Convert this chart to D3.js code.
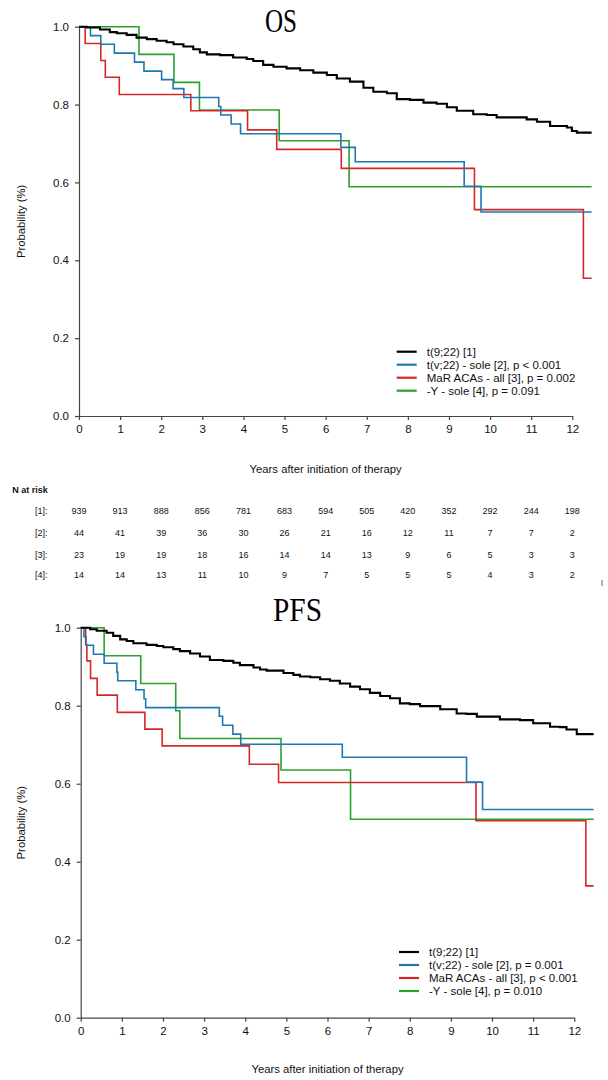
<!DOCTYPE html>
<html><head><meta charset="utf-8">
<script src="https://cdn.jsdelivr.net/npm/d3@7"></script>
<style>body{margin:0;background:#fff}svg{display:block}</style>
</head><body><svg id="c" width="608" height="1080"></svg>
<script>
// ---------- data ----------
const osLegend = ["t(9;22) [1]", "t(v;22) - sole [2], p < 0.001", "MaR ACAs - all [3], p = 0.002", "-Y - sole [4], p = 0.091"];
const pfsLegend = ["t(9;22) [1]", "t(v;22) - sole [2], p = 0.001", "MaR ACAs - all [3], p < 0.001", "-Y - sole [4], p = 0.010"];
const seriesColors = ["#000000", "#1f77b4", "#d62728", "#2ca02c"];
const xTicks = [0,1,2,3,4,5,6,7,8,9,10,11,12];
const yTicks = [0, 0.2, 0.4, 0.6, 0.8, 1.0];
const followUpEnd = 12.47;

// OS curves (time in years, survival probability)
const osBlackT = [0,0.19,0.51,0.75,0.92,1.16,1.40,1.65,1.89,2.13,2.30,2.54,2.78,2.94,3.11,3.43,3.75,4.08,4.24,4.48,4.73,5.05,5.38,5.70,6.03,6.27,6.59,6.92,7.16,7.49,7.73,8.05,8.38,8.70,8.95,9.19,9.59,9.92,10.16,10.89,11.14,11.46,11.87,11.99,12.11];
const osBlackS = [1,0.998,0.993,0.986,0.983,0.979,0.972,0.968,0.964,0.960,0.955,0.949,0.942,0.934,0.929,0.927,0.921,0.917,0.912,0.902,0.897,0.893,0.888,0.882,0.876,0.867,0.859,0.843,0.833,0.829,0.814,0.812,0.805,0.802,0.793,0.784,0.775,0.773,0.767,0.762,0.756,0.745,0.741,0.732,0.728];
const osBlueT = [0,0.28,0.53,0.86,1.35,1.58,2.01,2.29,2.55,3.40,3.45,3.70,3.93,6.37,6.72,9.37,9.78];
const osBlueS = [1,0.977,0.955,0.932,0.909,0.886,0.864,0.841,0.818,0.795,0.773,0.750,0.725,0.690,0.653,0.590,0.524];
const osRedT = [0,0.15,0.53,0.64,0.98,2.72,4.10,4.81,6.38,9.62,12.27];
const osRedS = [1,0.957,0.913,0.870,0.826,0.784,0.735,0.685,0.636,0.530,0.354];
const osGreenT = [0,1.46,2.31,2.93,4.87,6.57];
const osGreenS = [1,0.929,0.857,0.786,0.707,0.589];

// PFS curves
const pfsBlackT = [0,0.23,0.39,0.63,0.79,0.96,1.12,1.28,1.60,1.85,2.01,2.25,2.41,2.66,2.90,3.14,3.47,3.71,3.87,4.20,4.36,4.52,4.93,5.17,5.33,5.58,5.82,6.06,6.30,6.55,6.79,7.03,7.28,7.52,7.76,8.00,8.25,8.74,9.14,9.38,9.63,10.19,10.68,11.00,11.41,11.65,11.81,12.06];
const pfsBlackS = [1,0.996,0.992,0.987,0.979,0.970,0.966,0.960,0.956,0.953,0.950,0.945,0.940,0.934,0.926,0.917,0.915,0.910,0.904,0.898,0.893,0.890,0.884,0.879,0.875,0.873,0.868,0.864,0.857,0.849,0.842,0.833,0.825,0.819,0.806,0.804,0.799,0.791,0.780,0.779,0.772,0.765,0.763,0.755,0.746,0.745,0.739,0.727];
const pfsBlueT = [0,0.08,0.13,0.31,0.57,0.88,0.90,1.34,1.54,1.58,3.37,3.45,3.70,3.89,6.36,9.38,9.77];
const pfsBlueS = [1,0.977,0.955,0.932,0.909,0.886,0.864,0.841,0.818,0.795,0.773,0.750,0.727,0.701,0.668,0.604,0.534];
const pfsRedT = [0,0.12,0.15,0.24,0.40,0.89,1.56,1.98,4.10,4.81,9.61,12.28];
const pfsRedS = [1,0.957,0.915,0.870,0.827,0.783,0.740,0.697,0.650,0.603,0.505,0.338];
const pfsGreenT = [0,0.57,1.46,2.31,2.41,4.87,6.56];
const pfsGreenS = [1,0.928,0.857,0.787,0.716,0.635,0.509];

// numbers at risk (OS)
const atRiskLabels = ["[1]:", "[2]:", "[3]:", "[4]:"];
const atRisk1 = [939,913,888,856,781,683,594,505,420,352,292,244,198];
const atRisk2 = [44,41,39,36,30,26,21,16,12,11,7,7,2];
const atRisk3 = [23,19,19,18,16,14,14,13,9,6,5,3,3];
const atRisk4 = [14,14,13,11,10,9,7,5,5,5,4,3,2];

// ---------- drawing ----------
const svg = d3.select("#c");
const sans = "'Liberation Sans', Arial, sans-serif";

function toPts(T, S) {
  const pts = T.map((t, i) => [t, S[i]]);
  pts.push([followUpEnd, S[S.length - 1]]);
  return pts;
}

function panel(cfg) {
  const x = d3.scaleLinear().domain([0, 12]).range([cfg.x0, cfg.x1]);
  const y = d3.scaleLinear().domain([0, 1]).range([cfg.yBot, cfg.yTop]);
  const g = svg.append("g");

  const xa = g.append("g").attr("transform", `translate(0,${cfg.yBot})`)
    .call(d3.axisBottom(x).tickValues(xTicks).tickSize(4).tickSizeOuter(0).tickPadding(5).tickFormat(d3.format("d")));
  const ya = g.append("g").attr("transform", `translate(${cfg.x0},0)`)
    .call(d3.axisLeft(y).tickValues(yTicks).tickSize(4).tickSizeOuter(0).tickPadding(6).tickFormat(d3.format(".1f")));
  [xa, ya].forEach(a => {
    a.select(".domain").attr("stroke", "#444").attr("stroke-width", 1.2);
    a.selectAll(".tick line").attr("stroke", "#444").attr("stroke-width", 1.2);
    a.selectAll("text").attr("font-family", sans).attr("font-size", 11.5).attr("fill", "#111");
  });

  const line = d3.line().x(d => x(d[0])).y(d => y(d[1])).curve(d3.curveStepAfter);
  [3, 2, 1, 0].forEach(i => {
    g.append("path").datum(toPts(cfg.T[i], cfg.S[i]))
      .attr("d", line).attr("fill", "none")
      .attr("stroke", seriesColors[i])
      .attr("stroke-width", i === 0 ? 2.1 : 1.6);
  });

  g.append("text").attr("x", cfg.titleX).attr("y", cfg.titleY)
    .attr("font-family", "'Liberation Serif', 'Times New Roman', serif")
    .attr("font-size", 34).attr("fill", "#000")
    .attr("textLength", cfg.titleW).attr("lengthAdjust", "spacingAndGlyphs")
    .text(cfg.title);

  g.append("text").attr("x", x(6)).attr("y", cfg.xLabY).attr("text-anchor", "middle")
    .attr("font-family", sans).attr("font-size", 11.3).attr("fill", "#111")
    .text("Years after initiation of therapy");
  g.append("text").attr("transform", `translate(25,${(cfg.yTop + cfg.yBot) / 2}) rotate(-90)`)
    .attr("text-anchor", "middle")
    .attr("font-family", sans).attr("font-size", 11.3).attr("fill", "#111")
    .text("Probability (%)");

  cfg.legend.forEach((lab, i) => {
    const yy = cfg.legY + i * cfg.legDy;
    g.append("line").attr("x1", cfg.legX).attr("x2", cfg.legX + 20)
      .attr("y1", yy).attr("y2", yy)
      .attr("stroke", seriesColors[i]).attr("stroke-width", 2.2);
    g.append("text").attr("x", cfg.legX + 30).attr("y", yy + 4)
      .attr("font-family", sans).attr("font-size", 11.5).attr("fill", "#111")
      .text(lab);
  });
  return x;
}

const xOS = panel({
  x0: 79, x1: 572.3, yTop: 26.7, yBot: 416,
  T: [osBlackT, osBlueT, osRedT, osGreenT], S: [osBlackS, osBlueS, osRedS, osGreenS],
  title: "OS", titleX: 265, titleY: 31.7, titleW: 32,
  xLabY: 473, legend: osLegend, legX: 396.7, legY: 351.7, legDy: 13
});

panel({
  x0: 80.7, x1: 574.3, yTop: 627.7, yBot: 1017.7,
  T: [pfsBlackT, pfsBlueT, pfsRedT, pfsGreenT], S: [pfsBlackS, pfsBlueS, pfsRedS, pfsGreenS],
  title: "PFS", titleX: 273, titleY: 621, titleW: 49,
  xLabY: 1073, legend: pfsLegend, legX: 399, legY: 952, legDy: 13
});

// at-risk table
svg.append("text").attr("x", 12.3).attr("y", 492.5)
  .attr("font-family", sans).attr("font-size", 9).attr("font-weight", "bold").attr("fill", "#111")
  .text("N at risk");
const rowsY = [514.2, 535.5, 557.5, 578.2];
[atRisk1, atRisk2, atRisk3, atRisk4].forEach((row, r) => {
  svg.append("text").attr("x", 35).attr("y", rowsY[r])
    .attr("font-family", sans).attr("font-size", 9).attr("fill", "#111")
    .text(atRiskLabels[r]);
  svg.append("g").selectAll("text").data(row).join("text")
    .attr("x", (d, i) => xOS(xTicks[i])).attr("y", rowsY[r])
    .attr("text-anchor", "middle")
    .attr("font-family", sans).attr("font-size", 9).attr("fill", "#111")
    .text(d => d);
});
svg.append("line").attr("x1", 602).attr("x2", 602).attr("y1", 580).attr("y2", 586)
  .attr("stroke", "#666").attr("stroke-width", 1);
</script>
</body></html>
